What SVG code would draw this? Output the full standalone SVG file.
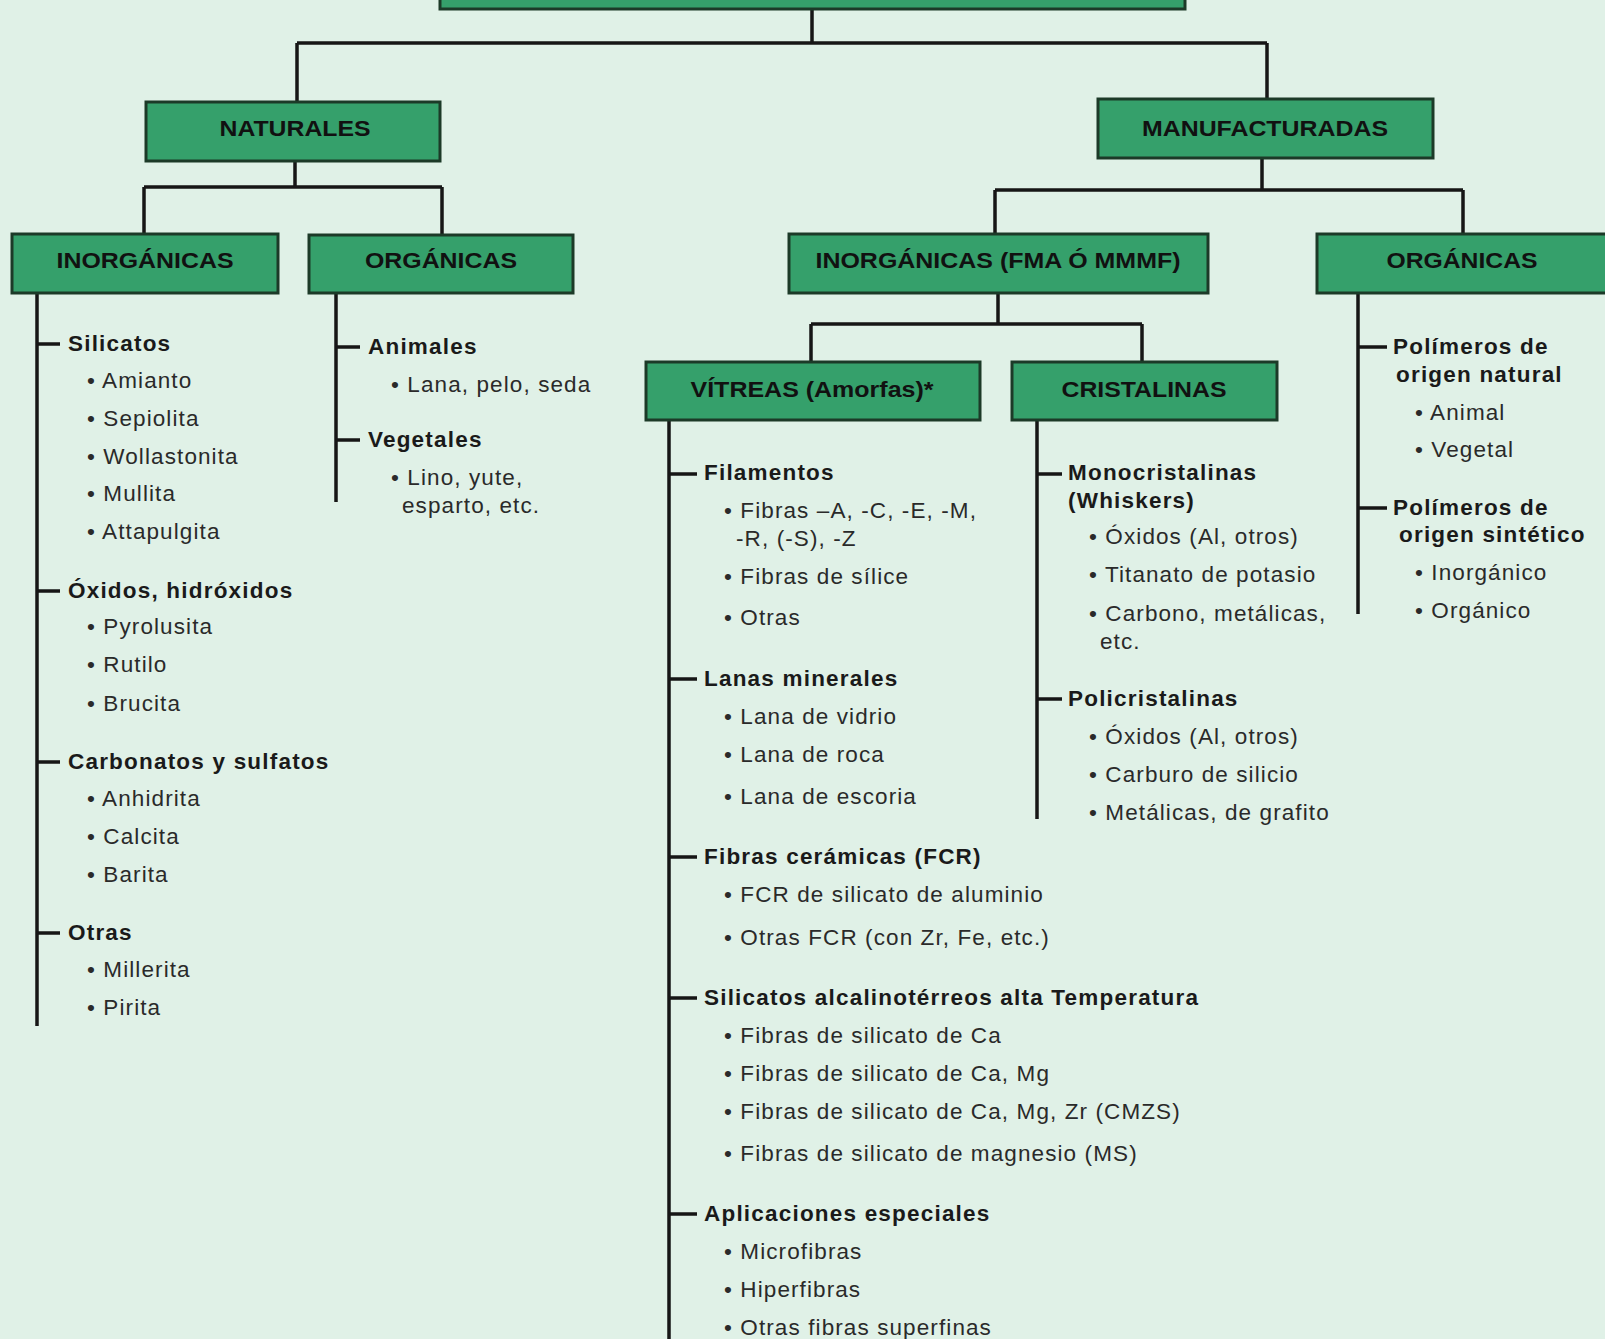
<svg xmlns="http://www.w3.org/2000/svg" width="1605" height="1339" viewBox="0 0 1605 1339">
<style>
.bg{fill:#e0f1e7}
.box{fill:#35a06b;stroke:#1c3a28;stroke-width:3}
.lbl{font-family:"Liberation Sans",Arial,sans-serif;font-weight:bold;font-size:22px;fill:#111;text-anchor:middle}
.ln{stroke:#161616;stroke-width:3.5;fill:none}
.h{font-family:"Liberation Sans",Arial,sans-serif;font-weight:bold;font-size:22.5px;letter-spacing:1.2px;fill:#1a1a1a}
.i{font-family:"Liberation Sans",Arial,sans-serif;font-size:22.5px;letter-spacing:1.1px;fill:#2a2a2a}
</style>
<rect class="bg" x="0" y="0" width="1605" height="1339"/>
<g id="connectors">
<path class="ln" d="M812 9V43M297 43H1267M297 43V102M1267 43V99"/>
<path class="ln" d="M295 161V187M144 187H442M144 187V233M442 187V234"/>
<path class="ln" d="M1262 158V190M995 190H1463M995 190V233M1463 190V233"/>
<path class="ln" d="M998 293V324M811 324H1142M811 324V361M1142 324V361"/>
<path class="ln" d="M37 293V1026M37 344H60M37 591H60M37 762H60M37 933H60"/>
<path class="ln" d="M336 293V502M336 347H360M336 440H360"/>
<path class="ln" d="M669 420V1339M669 474H697M669 679H697M669 857H697M669 998H697M669 1214H697"/>
<path class="ln" d="M1037 420V819M1037 474H1062M1037 699H1062"/>
<path class="ln" d="M1358 293V614M1358 347H1387M1358 508H1387"/>
</g>
<g id="top"><rect class="box" x="440" y="-20" width="745" height="29"/></g>
<g id="naturales"><rect class="box" x="146" y="102" width="294" height="59"/><text class="lbl" x="295" y="136" textLength="151" lengthAdjust="spacingAndGlyphs">NATURALES</text></g>
<g id="manufacturadas"><rect class="box" x="1098" y="99" width="335" height="59"/><text class="lbl" x="1265" y="136" textLength="246" lengthAdjust="spacingAndGlyphs">MANUFACTURADAS</text></g>
<g id="inorg-nat"><rect class="box" x="12" y="234" width="266" height="59"/><text class="lbl" x="145" y="268" textLength="177" lengthAdjust="spacingAndGlyphs">INORGÁNICAS</text>
<text class="h" x="68" y="351">Silicatos</text>
<text class="i" x="87" y="388">• Amianto</text>
<text class="i" x="87" y="426">• Sepiolita</text>
<text class="i" x="87" y="464">• Wollastonita</text>
<text class="i" x="87" y="501">• Mullita</text>
<text class="i" x="87" y="539">• Attapulgita</text>
<text class="h" x="68" y="598">Óxidos, hidróxidos</text>
<text class="i" x="87" y="634">• Pyrolusita</text>
<text class="i" x="87" y="672">• Rutilo</text>
<text class="i" x="87" y="711">• Brucita</text>
<text class="h" x="68" y="769">Carbonatos y sulfatos</text>
<text class="i" x="87" y="806">• Anhidrita</text>
<text class="i" x="87" y="844">• Calcita</text>
<text class="i" x="87" y="882">• Barita</text>
<text class="h" x="68" y="940">Otras</text>
<text class="i" x="87" y="977">• Millerita</text>
<text class="i" x="87" y="1015">• Pirita</text>
</g>
<g id="org-nat"><rect class="box" x="309" y="235" width="264" height="58"/><text class="lbl" x="441" y="268" textLength="152" lengthAdjust="spacingAndGlyphs">ORGÁNICAS</text>
<text class="h" x="368" y="354">Animales</text>
<text class="i" x="391" y="392">• Lana, pelo, seda</text>
<text class="h" x="368" y="447">Vegetales</text>
<text class="i" x="391" y="485">• Lino, yute,</text>
<text class="i" x="402" y="513">esparto, etc.</text>
</g>
<g id="inorg-manu"><rect class="box" x="789" y="234" width="419" height="59"/><text class="lbl" x="998" y="268" textLength="365" lengthAdjust="spacingAndGlyphs">INORGÁNICAS (FMA Ó MMMF)</text></g>
<g id="org-manu"><rect class="box" x="1317" y="234" width="295" height="59"/><text class="lbl" x="1462" y="268" textLength="151" lengthAdjust="spacingAndGlyphs">ORGÁNICAS</text>
<text class="h" x="1393" y="354">Polímeros de</text>
<text class="h" x="1396" y="382">origen natural</text>
<text class="i" x="1415" y="420">• Animal</text>
<text class="i" x="1415" y="457">• Vegetal</text>
<text class="h" x="1393" y="515">Polímeros de</text>
<text class="h" x="1399" y="542">origen sintético</text>
<text class="i" x="1415" y="580">• Inorgánico</text>
<text class="i" x="1415" y="618">• Orgánico</text>
</g>
<g id="vitreas"><rect class="box" x="646" y="362" width="334" height="58"/><text class="lbl" x="812" y="397" textLength="243" lengthAdjust="spacingAndGlyphs">VÍTREAS (Amorfas)*</text>
<text class="h" x="704" y="480">Filamentos</text>
<text class="i" x="724" y="518">• Fibras –A, -C, -E, -M,</text>
<text class="i" x="736" y="546">-R, (-S), -Z</text>
<text class="i" x="724" y="584">• Fibras de sílice</text>
<text class="i" x="724" y="625">• Otras</text>
<text class="h" x="704" y="686">Lanas minerales</text>
<text class="i" x="724" y="724">• Lana de vidrio</text>
<text class="i" x="724" y="762">• Lana de roca</text>
<text class="i" x="724" y="804">• Lana de escoria</text>
<text class="h" x="704" y="864">Fibras cerámicas (FCR)</text>
<text class="i" x="724" y="902">• FCR de silicato de aluminio</text>
<text class="i" x="724" y="945">• Otras FCR (con Zr, Fe, etc.)</text>
<text class="h" x="704" y="1005">Silicatos alcalinotérreos alta Temperatura</text>
<text class="i" x="724" y="1043">• Fibras de silicato de Ca</text>
<text class="i" x="724" y="1081">• Fibras de silicato de Ca, Mg</text>
<text class="i" x="724" y="1119">• Fibras de silicato de Ca, Mg, Zr (CMZS)</text>
<text class="i" x="724" y="1161">• Fibras de silicato de magnesio (MS)</text>
<text class="h" x="704" y="1221">Aplicaciones especiales</text>
<text class="i" x="724" y="1259">• Microfibras</text>
<text class="i" x="724" y="1297">• Hiperfibras</text>
<text class="i" x="724" y="1335">• Otras fibras superfinas</text>
</g>
<g id="cristalinas"><rect class="box" x="1012" y="362" width="265" height="58"/><text class="lbl" x="1144" y="397" textLength="165" lengthAdjust="spacingAndGlyphs">CRISTALINAS</text>
<text class="h" x="1068" y="480">Monocristalinas</text>
<text class="h" x="1068" y="508">(Whiskers)</text>
<text class="i" x="1089" y="544">• Óxidos (Al, otros)</text>
<text class="i" x="1089" y="582">• Titanato de potasio</text>
<text class="i" x="1089" y="621">• Carbono, metálicas,</text>
<text class="i" x="1100" y="649">etc.</text>
<text class="h" x="1068" y="706">Policristalinas</text>
<text class="i" x="1089" y="744">• Óxidos (Al, otros)</text>
<text class="i" x="1089" y="782">• Carburo de silicio</text>
<text class="i" x="1089" y="820">• Metálicas, de grafito</text>
</g>
</svg>
